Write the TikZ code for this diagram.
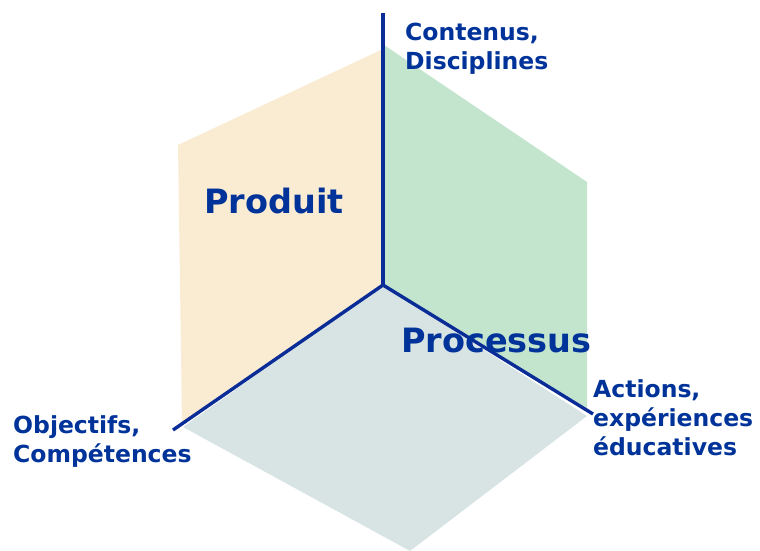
\documentclass[tikz,border=0pt]{standalone}
\usepackage{fontspec}
\setmainfont{DejaVu Sans}
\definecolor{beige}{RGB}{250,235,211}
\definecolor{vert}{RGB}{195,228,205}
\definecolor{gris}{RGB}{216,228,228}
\definecolor{bleu}{RGB}{0,51,153}
\definecolor{axe}{RGB}{10,44,150}
\tikzset{
  axis/.style={draw=axe, line width=3.4pt},
  small/.style={text=bleu, font=\bfseries\fontsize{23.5}{29}\selectfont, align=left, inner sep=0pt, anchor=base west},
  big/.style={text=bleu, font=\bfseries\fontsize{33.5}{38}\selectfont, inner sep=0pt, anchor=base west}
}
\begin{document}
\begin{tikzpicture}[x=1pt,y=-1pt]
\useasboundingbox (0,0) rectangle (760,551);
\coordinate (O) at (383,285);
\coordinate (T) at (383,13);
\coordinate (L) at (173,430);
\coordinate (R) at (593,414);
% panels
\fill[beige] (O) -- (381,50) -- (178,145) -- (182,423) -- cycle;
\fill[vert] (O) -- (384,45) -- (587,182) -- (587,408) -- cycle;
\fill[gris] (O) -- (183,427) -- (410,551) -- (587,416) -- cycle;
% axes
\draw[axis] (O) -- (T);
\draw[axis] (O) -- (L);
\draw[axis] (O) -- (R);
% labels
\node[small] (c) at (405,70) {Contenus,\\Disciplines};
\node[small] (o) at (13,462) {Objectifs,\\Compétences};
\node[small] (a) at (593,455) {Actions,\\expériences\\éducatives};
\node[big] (p) at (204,213) {Produit};
\node[big] (q) at (401,352) {Processus};
\end{tikzpicture}
\end{document}
